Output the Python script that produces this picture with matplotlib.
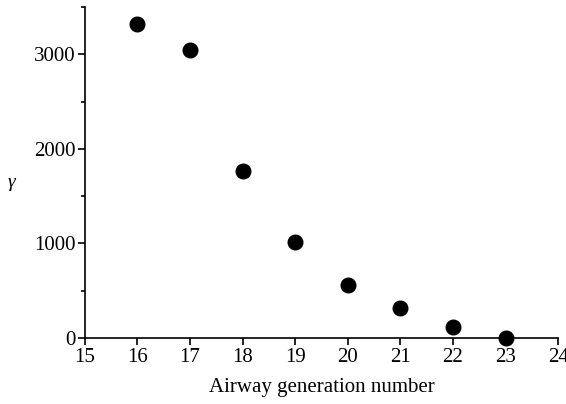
import matplotlib
matplotlib.use("Agg")
import matplotlib.pyplot as plt
from matplotlib.ticker import MultipleLocator

generation = [16, 17, 18, 19, 20, 21, 22, 23]
gamma = [3317, 3042, 1764, 1014, 560, 317, 116, 5]

plt.rcParams['font.family'] = ['Liberation Serif', 'DejaVu Serif']
fig = plt.figure(figsize=(5.66, 4.04), dpi=100)
ax = fig.add_axes([0.150, 0.163, 0.836, 0.820])
ax.plot(generation, gamma, 'o', color='black', markersize=10.5, clip_on=False, zorder=3)
ax.set_xlim(15, 24)
ax.set_ylim(0, 3500)
ax.xaxis.set_major_locator(MultipleLocator(1))
ax.yaxis.set_major_locator(MultipleLocator(1000))
ax.yaxis.set_minor_locator(MultipleLocator(500))
for s in ['top', 'right']:
    ax.spines[s].set_visible(False)
for s in ['left', 'bottom']:
    ax.spines[s].set_linewidth(1.2)
ax.tick_params(axis='both', which='major', direction='out', length=5, width=1.2, labelsize=15, pad=2)
ax.tick_params(axis='y', which='minor', direction='out', length=3, width=1.2)
ax.set_xlabel('Airway generation number', fontsize=15, labelpad=8)
ax.set_ylabel('γ', fontsize=14, rotation=0, style='italic', va='center', ha='center')
ax.yaxis.set_label_coords(-0.155, 0.47)
fig.savefig('out.png', dpi=100)
